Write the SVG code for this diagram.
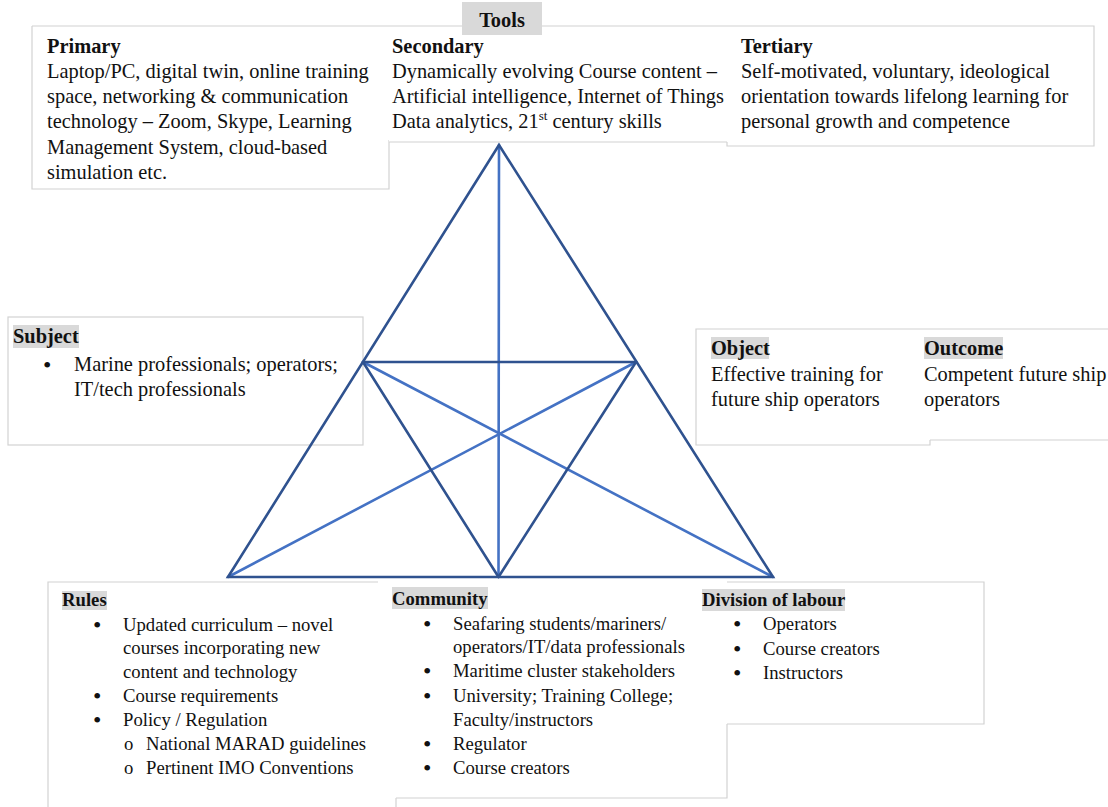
<svg xmlns="http://www.w3.org/2000/svg" width="1108" height="807" viewBox="0 0 1108 807" font-family="'Liberation Serif', 'DejaVu Serif', serif">
  <style>
    text { fill: #111; }
    .t20 { font-size: 20.4px; }
    .t19 { font-size: 18.7px; }
    .h { font-weight: bold; }
    .dot { font-size: 24px; }
    .frame { fill: none; stroke: #d2d2d2; stroke-width: 1.2; }
    .bg { fill: #ffffff; }
    .hl { fill: #d9d9d9; }
    .dark { stroke: #2F528F; stroke-width: 2.6; fill: none; stroke-linecap: round; }
    .light { stroke: #4472C4; stroke-width: 2.6; fill: none; stroke-linecap: round; }
  </style>

  <rect width="1108" height="807" fill="#ffffff"/>

  <!-- Tools: primary / secondary / tertiary -->
  <g id="tools-primary">
    <rect class="bg" x="32" y="26" width="357" height="163"/>
    <path class="frame" d="M32,26 H389 M32,26 V189 H389 V140"/>
    <text class="t20 h" x="47" y="53">Primary</text>
    <text class="t20" x="47" y="78">Laptop/PC, digital twin, online training</text>
    <text class="t20" x="47" y="103">space, networking &amp; communication</text>
    <text class="t20" x="47" y="128">technology – Zoom, Skype, Learning</text>
    <text class="t20" x="47" y="153.5">Management System, cloud-based</text>
    <text class="t20" x="47" y="179">simulation etc.</text>
  </g>

  <g id="tools-tertiary">
    <rect class="bg" x="727" y="26" width="367" height="120"/>
    <path class="frame" d="M727,26 H1094 V146 H727 V142"/>
    <text class="t20 h" x="741" y="53">Tertiary</text>
    <text class="t20" x="741" y="78">Self-motivated, voluntary, ideological</text>
    <text class="t20" x="741" y="103">orientation towards lifelong learning for</text>
    <text class="t20" x="741" y="128">personal growth and competence</text>
  </g>

  <g id="tools-secondary">
    <rect class="bg" x="389" y="26" width="338" height="116"/>
    <path class="frame" d="M389,26 H727 M389,142 H727"/>
    <text class="t20 h" x="392" y="53">Secondary</text>
    <text class="t20" x="392" y="78">Dynamically evolving Course content –</text>
    <text class="t20" x="392" y="103">Artificial intelligence, Internet of Things</text>
    <text class="t20" x="392" y="128">Data analytics, 21<tspan font-size="13" dy="-8">st</tspan><tspan dy="8"> century skills</tspan></text>
  </g>

  <g id="tools">
    <rect class="hl" x="462" y="2" width="80" height="33"/>
    <text class="t20 h" x="502" y="27" text-anchor="middle">Tools</text>
  </g>

  <!-- Subject -->
  <g id="subject">
    <rect class="frame" x="8" y="317" width="355" height="128"/>
    <rect class="hl" x="13" y="325" width="66" height="23"/>
    <text class="t20 h" x="13" y="343">Subject</text>
    <text class="dot" x="43" y="373">•</text>
    <text class="t20" x="74" y="371">Marine professionals; operators;</text>
    <text class="t20" x="74" y="396">IT/tech professionals</text>
  </g>

  <!-- Object and outcome -->
  <g id="object">
    <path class="frame" d="M930,440 V445 H696 V329 H930"/>
    <rect class="hl" x="711" y="337" width="58" height="22"/>
    <text class="t20 h" x="711" y="355">Object</text>
    <text class="t20" x="711" y="381">Effective training for</text>
    <text class="t20" x="711" y="406">future ship operators</text>
  </g>

  <g id="outcome">
    <path class="frame" d="M930,329 H1108 M930,440 H1108"/>
    <rect class="hl" x="924" y="337" width="79" height="22"/>
    <text class="t20 h" x="924" y="355">Outcome</text>
    <text class="t20" x="924" y="381">Competent future ship</text>
    <text class="t20" x="924" y="406">operators</text>
  </g>

  <!-- Rules -->
  <g id="rules">
    <path class="frame" d="M378,582 H48 V807 M396,798 V807"/>
    <rect class="hl" x="62" y="591" width="45" height="19"/>
    <text class="t19 h" x="62" y="606">Rules</text>
    <text class="dot" x="93" y="633">•</text>
    <text class="t19" x="123" y="631">Updated curriculum – novel</text>
    <text class="t19" x="123" y="654">courses incorporating new</text>
    <text class="t19" x="123" y="678">content and technology</text>
    <text class="dot" x="93" y="704">•</text>
    <text class="t19" x="123" y="702">Course requirements</text>
    <text class="dot" x="93" y="728">•</text>
    <text class="t19" x="123" y="726">Policy / Regulation</text>
    <text class="t19" x="124" y="750">o</text>
    <text class="t19" x="146" y="750">National MARAD guidelines</text>
    <text class="t19" x="124" y="774">o</text>
    <text class="t19" x="146" y="774">Pertinent IMO Conventions</text>
  </g>

  <!-- Community -->
  <g id="community">
    <path class="frame" d="M396,798 H727 V724"/>
    <rect class="hl" x="392" y="587" width="96" height="22"/>
    <text class="t19 h" x="392" y="605">Community</text>
    <text class="dot" x="423" y="632">•</text>
    <text class="t19" x="453" y="630">Seafaring students/mariners/</text>
    <text class="t19" x="453" y="653">operators/IT/data professionals</text>
    <text class="dot" x="423" y="679">•</text>
    <text class="t19" x="453" y="677">Maritime cluster stakeholders</text>
    <text class="dot" x="423" y="704">•</text>
    <text class="t19" x="453" y="702">University; Training College;</text>
    <text class="t19" x="453" y="726">Faculty/instructors</text>
    <text class="dot" x="423" y="752">•</text>
    <text class="t19" x="453" y="750">Regulator</text>
    <text class="dot" x="423" y="776">•</text>
    <text class="t19" x="453" y="774">Course creators</text>
  </g>

  <!-- Division of labour -->
  <g id="division-of-labour">
    <path class="frame" d="M727,582 H984 V724 H727"/>
    <rect class="hl" x="702" y="589" width="143" height="22"/>
    <text class="t19 h" x="702" y="605.5">Division of labour</text>
    <text class="dot" x="733" y="632">•</text>
    <text class="t19" x="763" y="630">Operators</text>
    <text class="dot" x="733" y="656.5">•</text>
    <text class="t19" x="763" y="654.5">Course creators</text>
    <text class="dot" x="733" y="681">•</text>
    <text class="t19" x="763" y="679">Instructors</text>
  </g>

  <!-- Activity triangle -->
  <g id="connectors">
    <line class="light" x1="499" y1="145" x2="498.5" y2="577"/>
    <line class="light" x1="363" y1="362" x2="773" y2="577"/>
    <line class="light" x1="636" y1="362" x2="228" y2="577"/>
    <line class="dark" x1="363" y1="362" x2="636" y2="362"/>
    <line class="dark" x1="363" y1="362" x2="498.5" y2="577"/>
    <line class="dark" x1="636" y1="362" x2="498.5" y2="577"/>
    <polygon class="dark" points="499,145 773,577 228,577" stroke-linejoin="miter"/>
  </g>
</svg>
